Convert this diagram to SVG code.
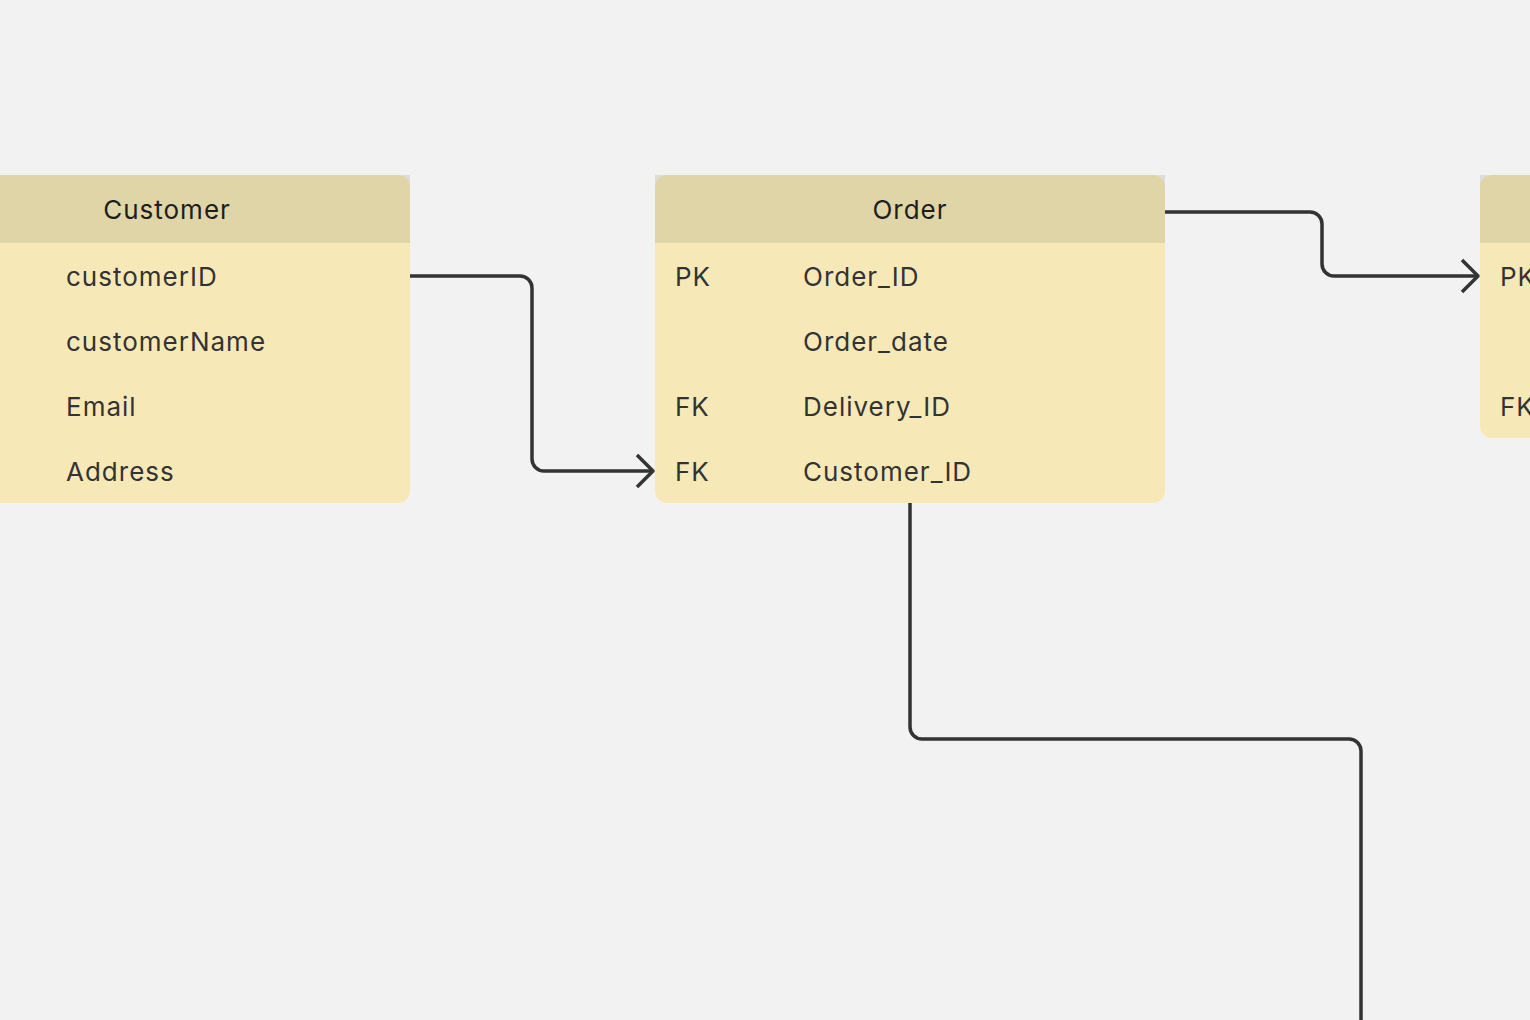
<svg xmlns="http://www.w3.org/2000/svg" width="1530" height="1020" viewBox="0 0 1530 1020">
<style>
.bg{fill:#f2f2f2}
.corner{fill:#dcdcdc}
.hdr{fill:#e0d5a6}
.body{fill:#f6e9b7}
.ht{font-family:Inter,"Liberation Sans",sans-serif;font-size:26px;letter-spacing:1px;fill:#1e1e1e;text-anchor:middle;dominant-baseline:central}
.ft{font-family:Inter,"Liberation Sans",sans-serif;font-size:26px;letter-spacing:1px;fill:#333;dominant-baseline:central}
.conn{fill:none;stroke:#333;stroke-width:3.5;stroke-linejoin:round}
</style>
<rect class="bg" x="0" y="0" width="1530" height="1020"/>
<g id="customer">
<rect class="corner" x="-100" y="175" width="510" height="20"/>
<rect class="body" x="-100" y="175" width="510" height="328" rx="12"/>
<path class="hdr" d="M-100,243 V187 A12,12 0 0 1 -88,175 H398 A12,12 0 0 1 410,187 V243 Z"/>
<text class="ht" x="167" y="209">Customer</text>
<text class="ft" x="66" y="276">customerID</text>
<text class="ft" x="66" y="341">customerName</text>
<text class="ft" x="66" y="406">Email</text>
<text class="ft" x="66" y="471">Address</text>
</g>
<g id="order">
<rect class="corner" x="655" y="175" width="510" height="20"/>
<rect class="body" x="655" y="175" width="510" height="328" rx="12"/>
<path class="hdr" d="M655,243 V187 A12,12 0 0 1 667,175 H1153 A12,12 0 0 1 1165,187 V243 Z"/>
<text class="ht" x="910" y="209">Order</text>
<text class="ft" x="675" y="276">PK</text>
<text class="ft" x="803" y="276">Order_ID</text>
<text class="ft" x="803" y="341">Order_date</text>
<text class="ft" x="675" y="406">FK</text>
<text class="ft" x="803" y="406">Delivery_ID</text>
<text class="ft" x="675" y="471">FK</text>
<text class="ft" x="803" y="471">Customer_ID</text>
</g>
<g id="delivery">
<rect class="corner" x="1480" y="175" width="510" height="20"/>
<rect class="body" x="1480" y="175" width="510" height="263" rx="12"/>
<path class="hdr" d="M1480,243 V187 A12,12 0 0 1 1492,175 H1978 A12,12 0 0 1 1990,187 V243 Z"/>
<text class="ft" x="1500" y="276">PK</text>
<text class="ft" x="1500" y="406">FK</text>
</g>
<g id="connectors">
<path class="conn" d="M410,276 H520 A12,12 0 0 1 532,288 V459 A12,12 0 0 0 544,471 H652"/>
<path class="conn" d="M637,455 L653,471 L637,487"/>
<path class="conn" d="M1165,212 H1310 A12,12 0 0 1 1322,224 V264 A12,12 0 0 0 1334,276 H1477"/>
<path class="conn" d="M1462,260 L1478,276 L1462,292"/>
<path class="conn" d="M910,503 V727 A12,12 0 0 0 922,739 H1349 A12,12 0 0 1 1361,751 V1022"/>
</g>
</svg>
